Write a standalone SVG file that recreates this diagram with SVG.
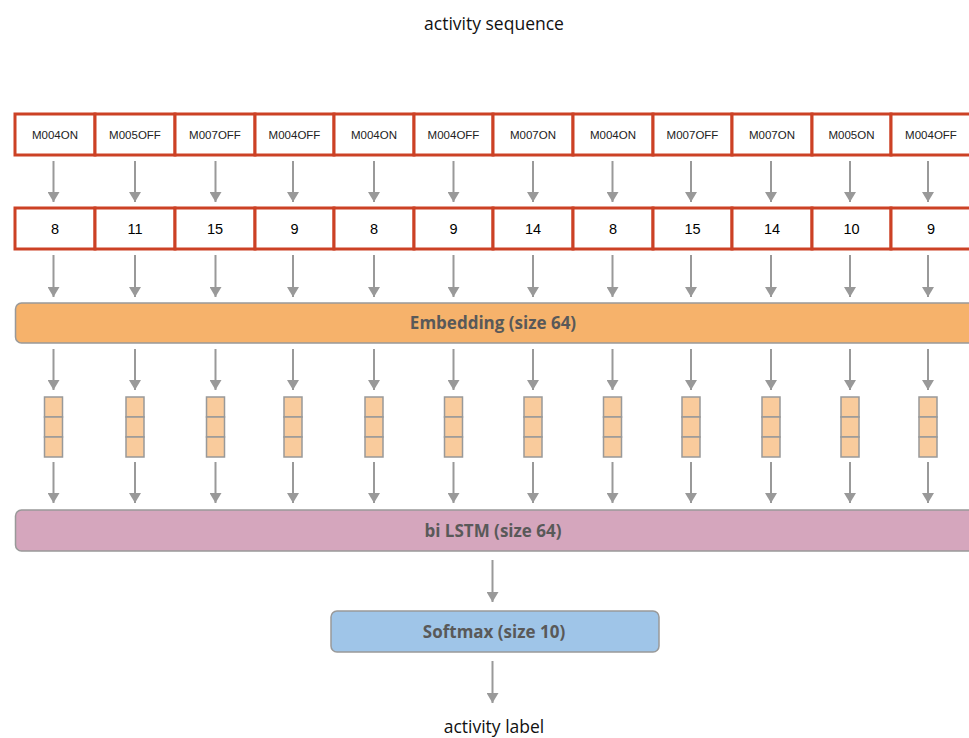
<svg xmlns="http://www.w3.org/2000/svg" width="969" height="738" viewBox="0 0 969 738">
<defs>
<marker id="ah" viewBox="0 0 10 12" refX="10" refY="6" markerWidth="10" markerHeight="12" markerUnits="userSpaceOnUse" orient="auto">
<path d="M0,0 L10,6 L0,12 z" fill="#999"/>
</marker>
<style>
.tok{fill:#fff;stroke:#cc4125;stroke-width:3}
.tt{font-family:"Liberation Sans",Arial,sans-serif;font-size:11.5px;fill:#222;text-anchor:middle}
.nt{font-family:"Liberation Sans",Arial,sans-serif;font-size:14.5px;fill:#000;text-anchor:middle}
.ar{stroke:#999;stroke-width:2;fill:none;marker-end:url(#ah)}
.cell{fill:#f9cb9c;stroke:#999;stroke-width:1.5}
.lbl{font-family:"Open Sans","Noto Sans",sans-serif;font-size:17px;font-weight:bold;fill:#595959;text-anchor:middle}
.cap{font-family:"Open Sans","Noto Sans",sans-serif;font-size:17.5px;fill:#111;text-anchor:middle}
</style>
</defs>
<rect width="969" height="738" fill="#fff"/>
<text class="cap" x="494" y="30">activity sequence</text>

<g id="tokens">
<g id="tok1"><rect class="tok" x="15" y="114" width="80" height="41"/><text class="tt" x="55" y="138.5">M004ON</text></g>
<g id="tok2"><rect class="tok" x="95" y="114" width="80" height="41"/><text class="tt" x="135" y="138.5">M005OFF</text></g>
<g id="tok3"><rect class="tok" x="175" y="114" width="80" height="41"/><text class="tt" x="215" y="138.5">M007OFF</text></g>
<g id="tok4"><rect class="tok" x="255" y="114" width="79" height="41"/><text class="tt" x="294.5" y="138.5">M004OFF</text></g>
<g id="tok5"><rect class="tok" x="334" y="114" width="80" height="41"/><text class="tt" x="374" y="138.5">M004ON</text></g>
<g id="tok6"><rect class="tok" x="414" y="114" width="79" height="41"/><text class="tt" x="453.5" y="138.5">M004OFF</text></g>
<g id="tok7"><rect class="tok" x="493" y="114" width="80" height="41"/><text class="tt" x="533" y="138.5">M007ON</text></g>
<g id="tok8"><rect class="tok" x="573" y="114" width="80" height="41"/><text class="tt" x="613" y="138.5">M004ON</text></g>
<g id="tok9"><rect class="tok" x="653" y="114" width="79" height="41"/><text class="tt" x="692.5" y="138.5">M007OFF</text></g>
<g id="tok10"><rect class="tok" x="732" y="114" width="80" height="41"/><text class="tt" x="772" y="138.5">M007ON</text></g>
<g id="tok11"><rect class="tok" x="812" y="114" width="79" height="41"/><text class="tt" x="851.5" y="138.5">M005ON</text></g>
<g id="tok12"><rect class="tok" x="891" y="114" width="80" height="41"/><text class="tt" x="931" y="138.5">M004OFF</text></g>
</g>

<g id="ids">
<g id="id1"><rect class="tok" x="15" y="208" width="80" height="41"/><text class="nt" x="55" y="233.5">8</text></g>
<g id="id2"><rect class="tok" x="95" y="208" width="80" height="41"/><text class="nt" x="135" y="233.5">11</text></g>
<g id="id3"><rect class="tok" x="175" y="208" width="80" height="41"/><text class="nt" x="215" y="233.5">15</text></g>
<g id="id4"><rect class="tok" x="255" y="208" width="79" height="41"/><text class="nt" x="294.5" y="233.5">9</text></g>
<g id="id5"><rect class="tok" x="334" y="208" width="80" height="41"/><text class="nt" x="374" y="233.5">8</text></g>
<g id="id6"><rect class="tok" x="414" y="208" width="79" height="41"/><text class="nt" x="453.5" y="233.5">9</text></g>
<g id="id7"><rect class="tok" x="493" y="208" width="80" height="41"/><text class="nt" x="533" y="233.5">14</text></g>
<g id="id8"><rect class="tok" x="573" y="208" width="80" height="41"/><text class="nt" x="613" y="233.5">8</text></g>
<g id="id9"><rect class="tok" x="653" y="208" width="79" height="41"/><text class="nt" x="692.5" y="233.5">15</text></g>
<g id="id10"><rect class="tok" x="732" y="208" width="80" height="41"/><text class="nt" x="772" y="233.5">14</text></g>
<g id="id11"><rect class="tok" x="812" y="208" width="79" height="41"/><text class="nt" x="851.5" y="233.5">10</text></g>
<g id="id12"><rect class="tok" x="891" y="208" width="80" height="41"/><text class="nt" x="931" y="233.5">9</text></g>
</g>

<g id="embedding"><rect x="15.5" y="303" width="965" height="40" rx="6" fill="#f6b26b" stroke="#999" stroke-width="1.5"/><text class="lbl" x="493" y="329">Embedding (size 64)</text></g>

<g id="vectors">
<g id="vec1"><rect class="cell" x="44.5" y="397" width="18" height="20"/><rect class="cell" x="44.5" y="417" width="18" height="20"/><rect class="cell" x="44.5" y="437" width="18" height="20"/></g>
<g id="vec2"><rect class="cell" x="126" y="397" width="18" height="20"/><rect class="cell" x="126" y="417" width="18" height="20"/><rect class="cell" x="126" y="437" width="18" height="20"/></g>
<g id="vec3"><rect class="cell" x="206.5" y="397" width="18" height="20"/><rect class="cell" x="206.5" y="417" width="18" height="20"/><rect class="cell" x="206.5" y="437" width="18" height="20"/></g>
<g id="vec4"><rect class="cell" x="284" y="397" width="18" height="20"/><rect class="cell" x="284" y="417" width="18" height="20"/><rect class="cell" x="284" y="437" width="18" height="20"/></g>
<g id="vec5"><rect class="cell" x="365" y="397" width="18" height="20"/><rect class="cell" x="365" y="417" width="18" height="20"/><rect class="cell" x="365" y="437" width="18" height="20"/></g>
<g id="vec6"><rect class="cell" x="444.5" y="397" width="18" height="20"/><rect class="cell" x="444.5" y="417" width="18" height="20"/><rect class="cell" x="444.5" y="437" width="18" height="20"/></g>
<g id="vec7"><rect class="cell" x="524" y="397" width="18" height="20"/><rect class="cell" x="524" y="417" width="18" height="20"/><rect class="cell" x="524" y="437" width="18" height="20"/></g>
<g id="vec8"><rect class="cell" x="603.5" y="397" width="18" height="20"/><rect class="cell" x="603.5" y="417" width="18" height="20"/><rect class="cell" x="603.5" y="437" width="18" height="20"/></g>
<g id="vec9"><rect class="cell" x="682" y="397" width="18" height="20"/><rect class="cell" x="682" y="417" width="18" height="20"/><rect class="cell" x="682" y="437" width="18" height="20"/></g>
<g id="vec10"><rect class="cell" x="762" y="397" width="18" height="20"/><rect class="cell" x="762" y="417" width="18" height="20"/><rect class="cell" x="762" y="437" width="18" height="20"/></g>
<g id="vec11"><rect class="cell" x="841" y="397" width="18" height="20"/><rect class="cell" x="841" y="417" width="18" height="20"/><rect class="cell" x="841" y="437" width="18" height="20"/></g>
<g id="vec12"><rect class="cell" x="919" y="397" width="18" height="20"/><rect class="cell" x="919" y="417" width="18" height="20"/><rect class="cell" x="919" y="437" width="18" height="20"/></g>
</g>

<g id="bilstm"><rect x="15.5" y="510" width="965" height="41" rx="6" fill="#d5a6bd" stroke="#999" stroke-width="1.5"/><text class="lbl" x="493" y="536.5">bi LSTM (size 64)</text></g>

<g id="softmax"><rect x="331" y="611" width="328" height="41" rx="6" fill="#9fc5e8" stroke="#999" stroke-width="1.5"/><text class="lbl" x="494" y="637.5">Softmax (size 10)</text></g>

<text class="cap" x="494" y="733">activity label</text>

<g id="connectors">
<line class="ar" x1="53.5" y1="161" x2="53.5" y2="202"/><line class="ar" x1="135" y1="161" x2="135" y2="202"/><line class="ar" x1="215.5" y1="161" x2="215.5" y2="202"/><line class="ar" x1="293" y1="161" x2="293" y2="202"/><line class="ar" x1="374" y1="161" x2="374" y2="202"/><line class="ar" x1="453.5" y1="161" x2="453.5" y2="202"/><line class="ar" x1="533" y1="161" x2="533" y2="202"/><line class="ar" x1="612.5" y1="161" x2="612.5" y2="202"/><line class="ar" x1="691" y1="161" x2="691" y2="202"/><line class="ar" x1="771" y1="161" x2="771" y2="202"/><line class="ar" x1="850" y1="161" x2="850" y2="202"/><line class="ar" x1="928" y1="161" x2="928" y2="202"/>
<line class="ar" x1="53.5" y1="255" x2="53.5" y2="297"/><line class="ar" x1="135" y1="255" x2="135" y2="297"/><line class="ar" x1="215.5" y1="255" x2="215.5" y2="297"/><line class="ar" x1="293" y1="255" x2="293" y2="297"/><line class="ar" x1="374" y1="255" x2="374" y2="297"/><line class="ar" x1="453.5" y1="255" x2="453.5" y2="297"/><line class="ar" x1="533" y1="255" x2="533" y2="297"/><line class="ar" x1="612.5" y1="255" x2="612.5" y2="297"/><line class="ar" x1="691" y1="255" x2="691" y2="297"/><line class="ar" x1="771" y1="255" x2="771" y2="297"/><line class="ar" x1="850" y1="255" x2="850" y2="297"/><line class="ar" x1="928" y1="255" x2="928" y2="297"/>
<line class="ar" x1="53.5" y1="349" x2="53.5" y2="390"/><line class="ar" x1="135" y1="349" x2="135" y2="390"/><line class="ar" x1="215.5" y1="349" x2="215.5" y2="390"/><line class="ar" x1="293" y1="349" x2="293" y2="390"/><line class="ar" x1="374" y1="349" x2="374" y2="390"/><line class="ar" x1="453.5" y1="349" x2="453.5" y2="390"/><line class="ar" x1="533" y1="349" x2="533" y2="390"/><line class="ar" x1="612.5" y1="349" x2="612.5" y2="390"/><line class="ar" x1="691" y1="349" x2="691" y2="390"/><line class="ar" x1="771" y1="349" x2="771" y2="390"/><line class="ar" x1="850" y1="349" x2="850" y2="390"/><line class="ar" x1="928" y1="349" x2="928" y2="390"/>
<line class="ar" x1="53.5" y1="462" x2="53.5" y2="503"/><line class="ar" x1="135" y1="462" x2="135" y2="503"/><line class="ar" x1="215.5" y1="462" x2="215.5" y2="503"/><line class="ar" x1="293" y1="462" x2="293" y2="503"/><line class="ar" x1="374" y1="462" x2="374" y2="503"/><line class="ar" x1="453.5" y1="462" x2="453.5" y2="503"/><line class="ar" x1="533" y1="462" x2="533" y2="503"/><line class="ar" x1="612.5" y1="462" x2="612.5" y2="503"/><line class="ar" x1="691" y1="462" x2="691" y2="503"/><line class="ar" x1="771" y1="462" x2="771" y2="503"/><line class="ar" x1="850" y1="462" x2="850" y2="503"/><line class="ar" x1="928" y1="462" x2="928" y2="503"/>
<line class="ar" x1="492.5" y1="560" x2="492.5" y2="602"/>
<line class="ar" x1="492.5" y1="661" x2="492.5" y2="703"/>
</g>
</svg>
